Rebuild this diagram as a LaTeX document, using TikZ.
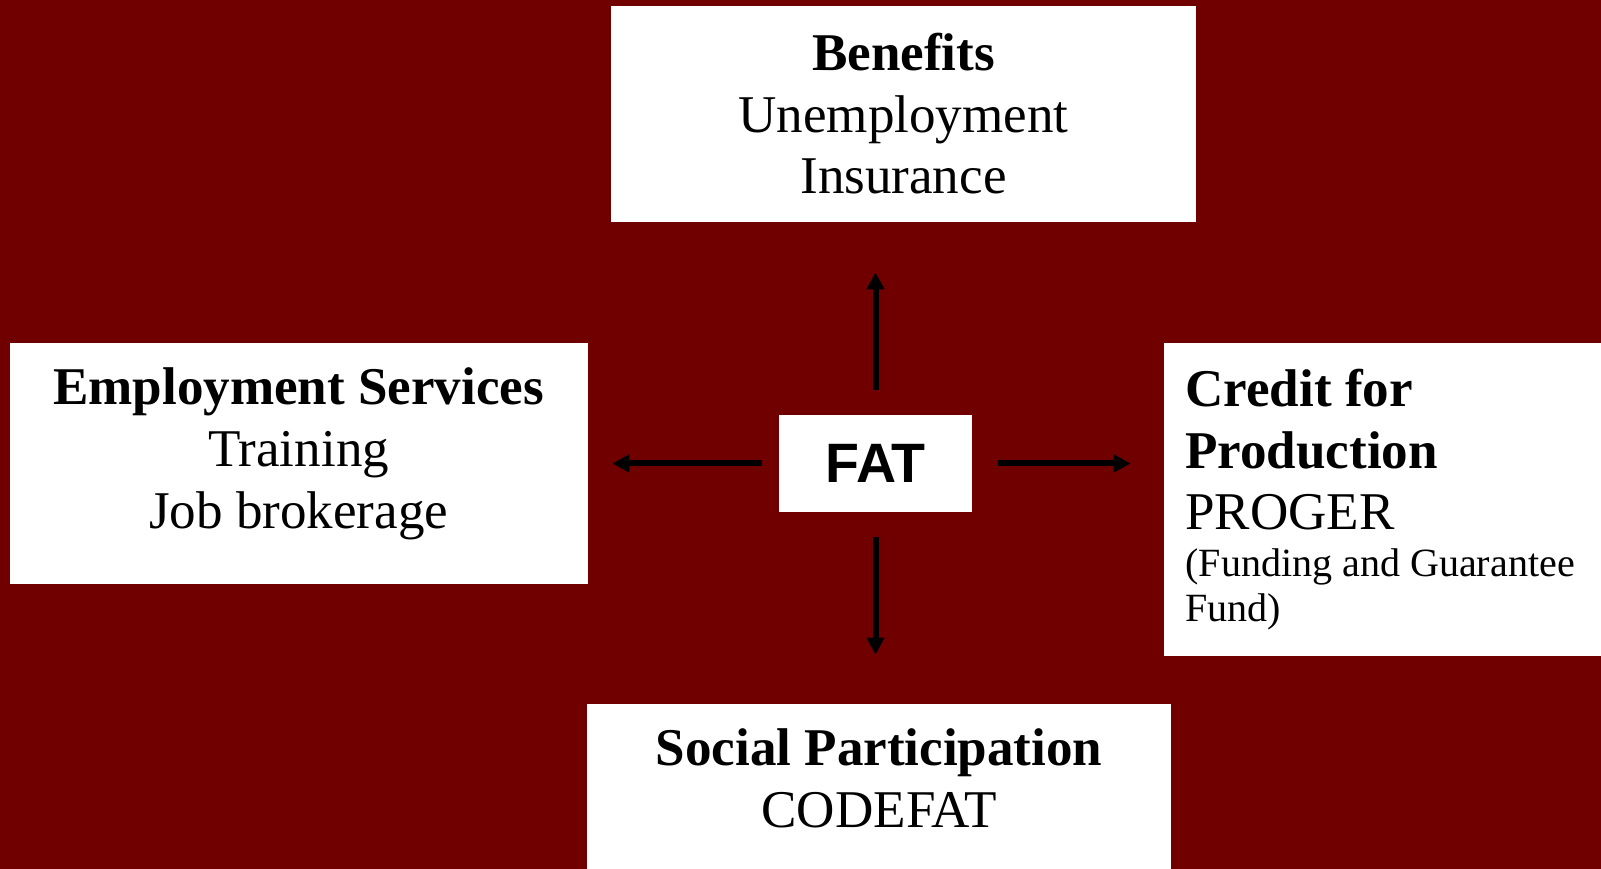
\documentclass[tikz,border=0pt]{standalone}
\usepackage{fontspec}
\setmainfont{Liberation Serif}
\newfontfamily\fatfont{Liberation Sans}
\usepackage{xcolor}
\definecolor{maroonbg}{HTML}{700000}
\usetikzlibrary{arrows.meta, positioning}
\setlength{\parindent}{0pt}
\newcommand\smalltext{\fontsize{11.4}{17.6}\selectfont}

\begin{document}
\begin{tikzpicture}[
  box/.style   = {fill=white, text=black, align=center, inner sep=0pt,
                  font=\fontsize{15.1}{17.6}\selectfont},
  hub/.style   = {fill=white, text=black, minimum width=1.93cm, minimum height=0.97cm,
                  inner sep=0pt, font=\fatfont\bfseries\fontsize{15.8}{17}\selectfont},
  arr/.style   = {-{Triangle[length=0.17cm, width=0.17cm]}, line width=0.06cm, black},
  node distance = 1.9cm
]
% page and background
\useasboundingbox (0,0) rectangle (16.01,8.69);
\fill[maroonbg] (0,0) rectangle (16.01,8.69);

\node[hub] (fat) at (8.755,4.055) {FAT};

\node[box, minimum width=5.85cm, minimum height=2.16cm,
      above=1.92cm of fat, xshift=0.28cm] (ben)
  {\textbf{Benefits}\\Unemployment\\Insurance};
\node[box, minimum width=5.78cm, minimum height=2.41cm, text depth=0.31cm,
      left=1.90cm of fat] (emp)
  {\textbf{Employment Services}\\Training\\Job brokerage};
\node[box, align=flush left, text width=4.2cm, inner xsep=0.21cm, minimum height=3.13cm,
      right=1.91cm of fat, yshift=-0.36cm] (cred)
  {\textbf{Credit for}\\\textbf{Production}\\PROGER\\[-0.15cm]
   {\smalltext (Funding and Guarantee}\\[-0.17cm]{\smalltext Fund)}};
\node[box, minimum width=5.84cm, inner ysep=0.245cm, text depth=0.49cm,
      below=1.91cm of fat, xshift=0.035cm] (soc)
  {\textbf{Social Participation}\\CODEFAT};

% arrows out of the hub
\draw[arr, shorten <=0.24cm, shorten >=0.50cm] (fat.north) -- (fat.north |- ben.south);
\draw[arr, shorten <=0.24cm, shorten >=0.49cm] (fat.south) -- (fat.south |- soc.north);
\draw[arr, shorten <=0.16cm, shorten >=0.24cm] (fat.west) -- (fat.west -| emp.east);
\draw[arr, shorten <=0.25cm, shorten >=0.33cm] (fat.east) -- (fat.east -| cred.west);
\end{tikzpicture}
\end{document}
